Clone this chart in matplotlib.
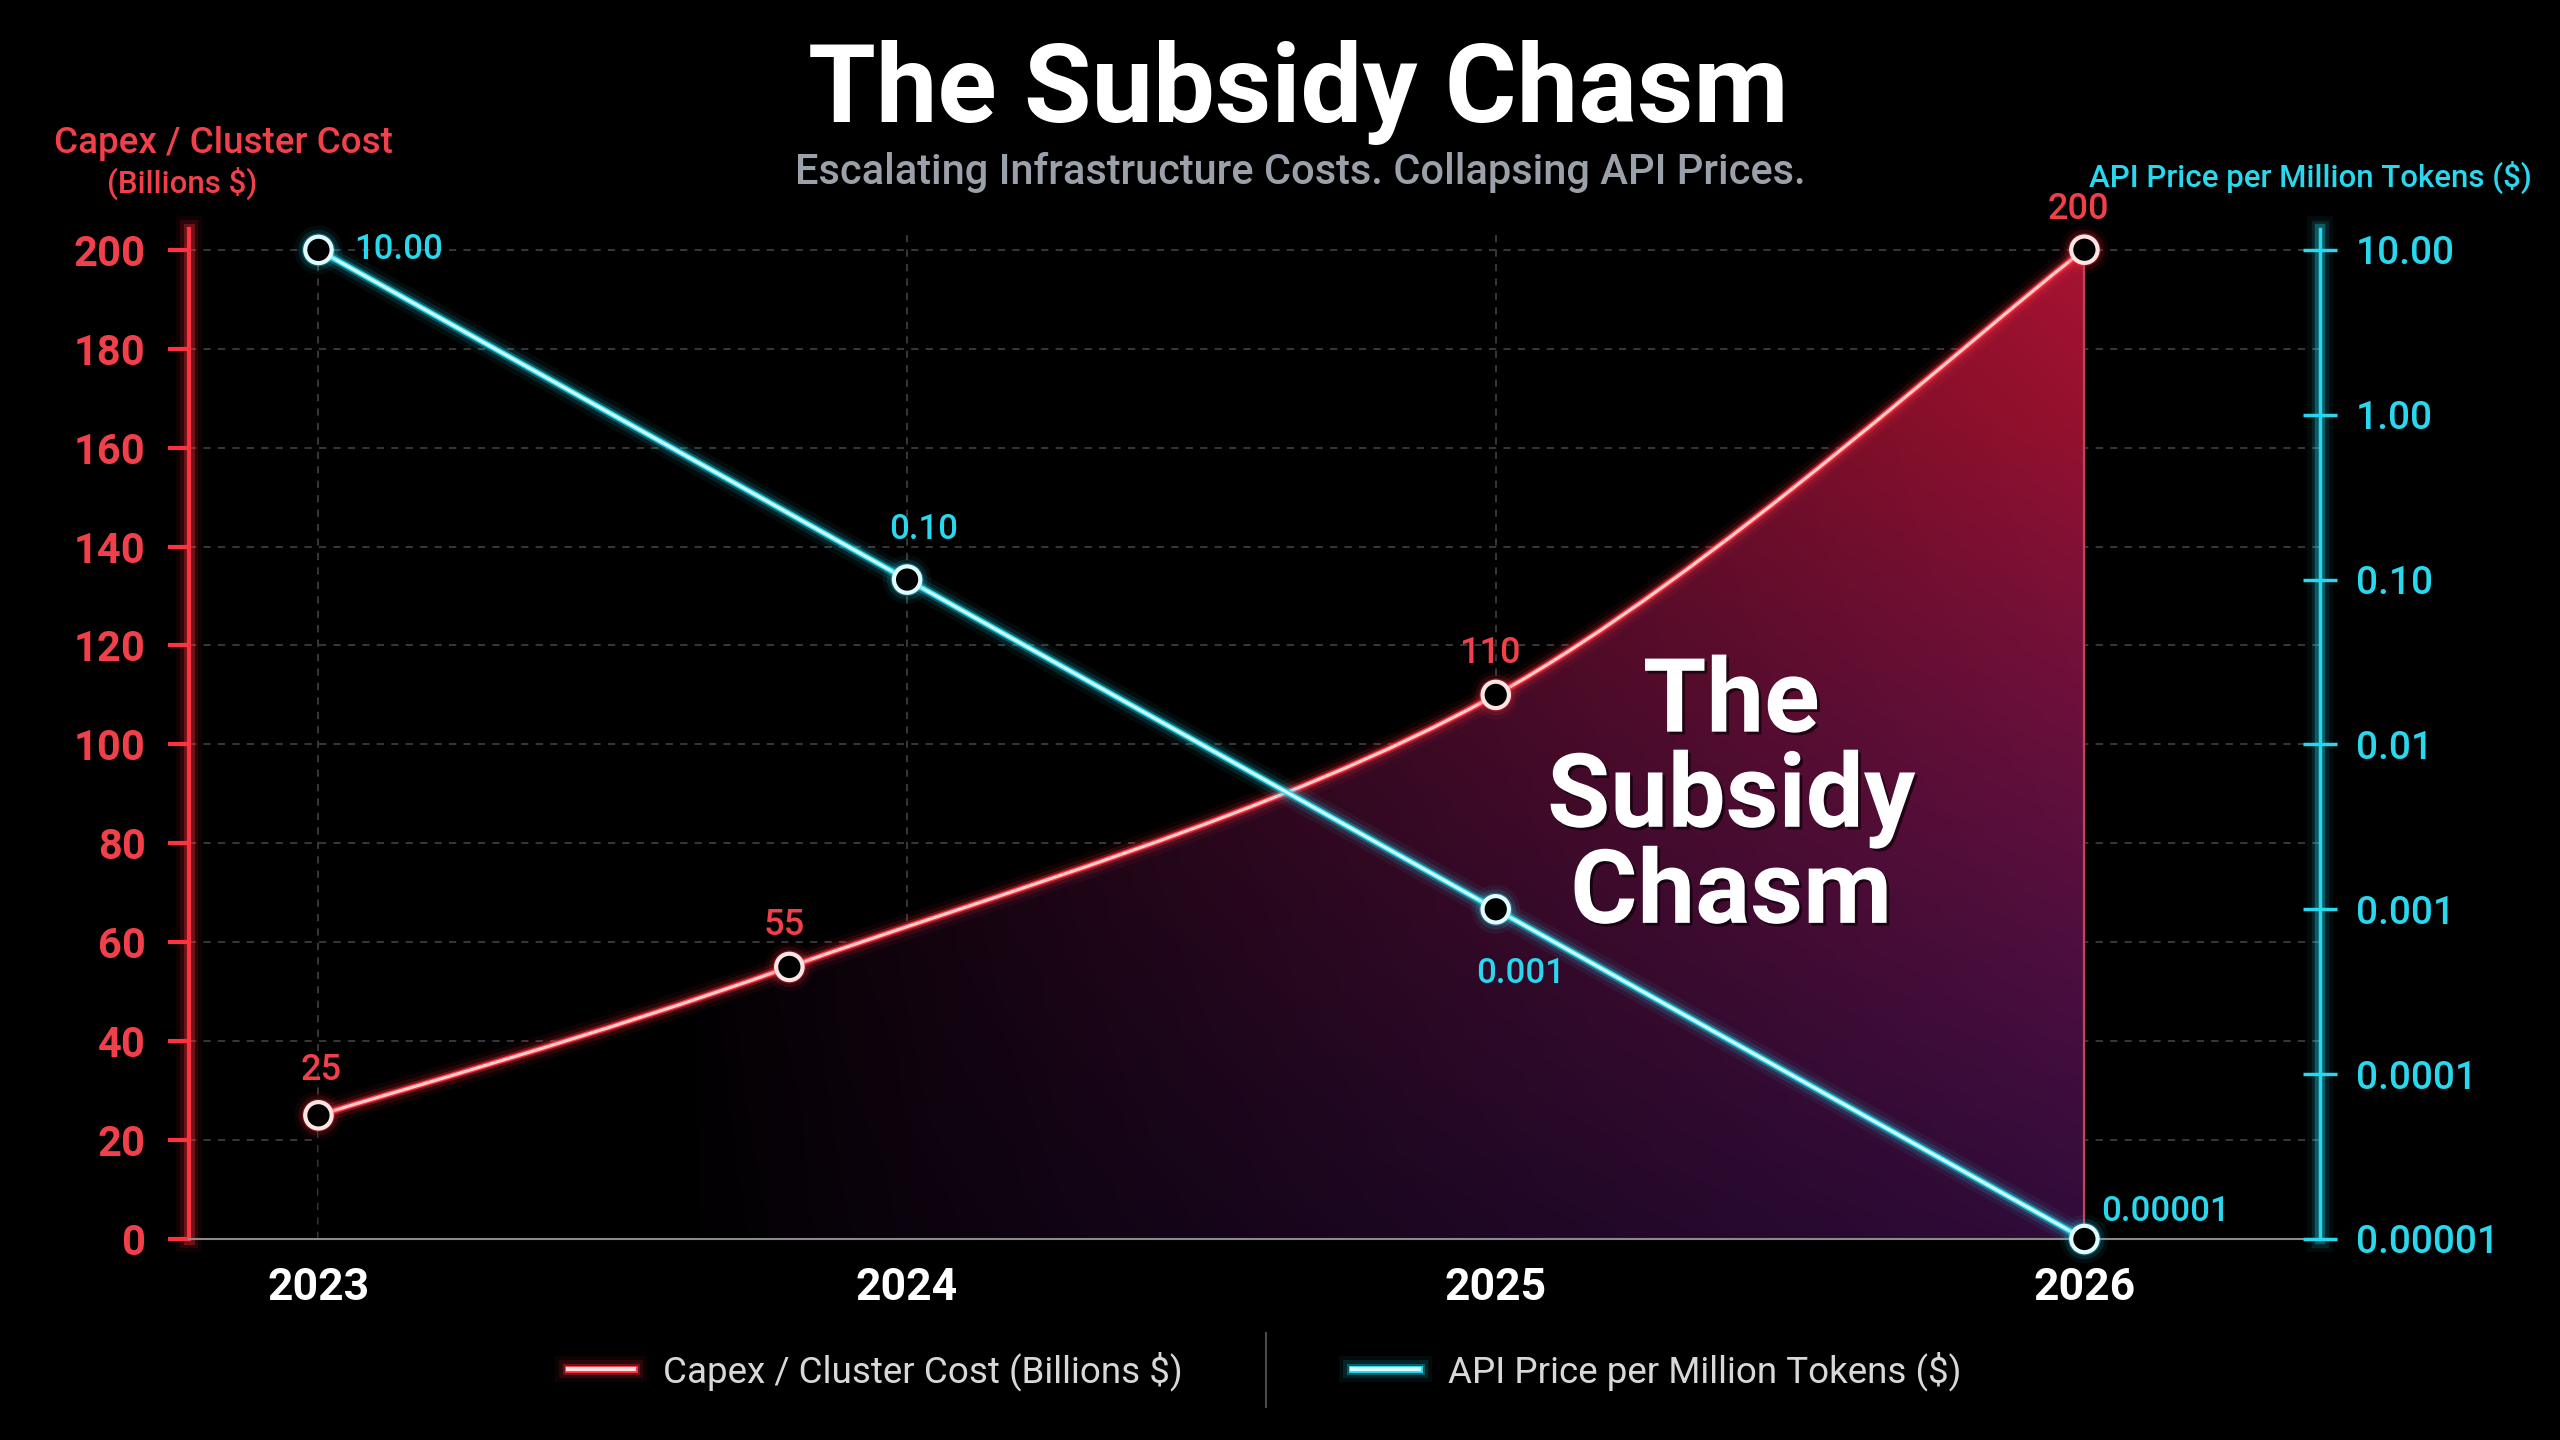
import numpy as np
import matplotlib.pyplot as plt
import matplotlib.patheffects as pe
from matplotlib.path import Path
from matplotlib.patches import PathPatch
from matplotlib.lines import Line2D

plt.rcParams['font.family'] = ['Roboto', 'DejaVu Sans']

# data
capex_years = [2023, 2023.8, 2025, 2026]
capex = [25, 55, 110, 200]
capex_labels = ["25", "55", "110", "200"]

api_years = [2023, 2024, 2025, 2026]
api_price = [10.0, 0.10, 0.001, 0.00001]
api_labels = ["10.00", "0.10", "0.001", "0.00001"]

year_ticks = [2023, 2024, 2025, 2026]
price_ticks = [10, 1, 0.1, 0.01, 0.001, 0.0001, 0.00001]
price_tick_labels = ["10.00", "1.00", "0.10", "0.01", "0.001", "0.0001", "0.00001"]

RED = '#ff3340'
RED_TXT = '#f2404a'
CYAN = '#28d8ee'
BG = '#000000'


def glow(color, core_lw):
    return [pe.Stroke(linewidth=core_lw + 16, foreground=color, alpha=0.06),
            pe.Stroke(linewidth=core_lw + 10, foreground=color, alpha=0.12),
            pe.Stroke(linewidth=core_lw + 5, foreground=color, alpha=0.3),
            pe.Stroke(linewidth=core_lw + 2, foreground=color, alpha=1.0),
            pe.Normal()]


def smooth_path(xs, ys, k=1 / 6):
    # catmull-rom style bezier through the points
    n = len(xs)
    verts = [(xs[0], ys[0])]
    codes = [Path.MOVETO]
    for i in range(n - 1):
        a = max(i - 1, 0)
        b = min(i + 2, n - 1)
        c1 = (xs[i] + (xs[i + 1] - xs[a]) * k, ys[i] + (ys[i + 1] - ys[a]) * k)
        c2 = (xs[i + 1] - (xs[b] - xs[i]) * k, ys[i + 1] - (ys[b] - ys[i]) * k)
        verts += [c1, c2, (xs[i + 1], ys[i + 1])]
        codes += [Path.CURVE4] * 3
    return verts, codes


fig = plt.figure(figsize=(25.6, 14.4), dpi=100, facecolor=BG)
ax = fig.add_axes([0.0738, 0.1396, 0.9062 - 0.0738, 0.841 - 0.1396])
ax.set_facecolor(BG)
ax2 = ax.twinx()

ax.set_xlim(2022.78, 2026.40)
ax.set_ylim(0, 204.2)
ax2.set_ylim(-5, 1.127)

# grid
ax.set_yticks(range(0, 201, 20))
ax.set_xticks(year_ticks)
ax.grid(True, color='#3c3c3c', lw=1.3, ls=(0, (4, 4)))
ax.set_axisbelow(True)

# gradient fill under the capex curve
verts, codes = smooth_path(capex_years, capex)
fill_verts = verts + [(capex_years[-1], 0), (capex_years[0], 0), (capex_years[0], capex[0])]
fill_codes = codes + [Path.LINETO, Path.LINETO, Path.CLOSEPOLY]
clip = PathPatch(Path(fill_verts, fill_codes), facecolor='none', edgecolor='none',
                 transform=ax.transData)
ax.add_patch(clip)

gx = np.linspace(2023, 2026, 300)
gy = np.linspace(0, 200, 200)
X, Y = np.meshgrid(gx, gy)
t = np.clip((X - 2023.6) / 2.4, 0, 1) ** 0.85
s = Y / 200
inten = t * (0.45 + 0.6 * s)
purple = np.array([0.42, 0.10, 0.50])
crimson = np.array([0.62, 0.07, 0.19])
m = np.clip(s * 1.2, 0, 1)[..., None]
rgb = np.clip((purple * (1 - m) + crimson * m) * inten[..., None], 0, 1)
img = np.dstack([rgb, np.ones_like(inten)])
im = ax.imshow(img, extent=(2023, 2026, 0, 200), origin='lower', aspect='auto',
               interpolation='bilinear', zorder=1)
im.set_clip_path(clip)

ax.vlines(capex_years[-1], 0, capex[-1], color='#c8405a', lw=1.6, zorder=2)

# capex line
red_patch = PathPatch(Path(verts, codes), facecolor='none', edgecolor='#ffd0d0', lw=2.2,
                      transform=ax.transData, zorder=4)
red_patch.set_path_effects(glow(RED, 2.2))
ax.add_patch(red_patch)
ax.plot(capex_years, capex, ls='none', marker='o', ms=19, mfc=BG, mec='#ffe4e4', mew=3,
        zorder=5, clip_on=False, path_effects=glow(RED, 0))

for x, y, lab, off in zip(capex_years, capex, capex_labels,
                          [(2, 32), (-4, 30), (-4, 30), (-4, 29)]):
    ax.annotate(lab, (x, y), xytext=off, textcoords='offset points', ha='center', va='center',
                color=RED_TXT, fontsize=26, fontweight='medium', zorder=6)

# api price line (log10 space on the right axis)
logp = list(np.log10(api_price))
cverts, ccodes = smooth_path(api_years, logp)
cyan_patch = PathPatch(Path(cverts, ccodes), facecolor='none', edgecolor='#d0faff', lw=2.2,
                       transform=ax2.transData, zorder=4)
cyan_patch.set_path_effects(glow(CYAN, 2.2))
ax2.add_patch(cyan_patch)
ax2.plot(api_years, logp, ls='none', marker='o', ms=19, mfc=BG, mec='#e0fcff', mew=3,
         zorder=5, clip_on=False, path_effects=glow(CYAN, 0))

for x, y, lab, off, ha in zip(api_years, logp, api_labels,
                              [(26, 0), (12, 36), (18, -46), (12, 20)],
                              ['left', 'center', 'center', 'left']):
    ax2.annotate(lab, (x, y), xytext=off, textcoords='offset points', ha=ha, va='center',
                 color=CYAN, fontsize=25, fontweight='medium', zorder=6)

# big label inside the chasm
ax.text(2025.4, 89, "The\nSubsidy\nChasm", ha='center', va='center', color='white',
        fontsize=74, fontweight='bold', linespacing=0.95, zorder=6,
        path_effects=[pe.withSimplePatchShadow(offset=(2, -2), shadow_rgbFace='black', alpha=0.6)])

# axes styling
for side in ['top', 'right']:
    ax.spines[side].set_visible(False)
for side in ['top', 'left', 'bottom']:
    ax2.spines[side].set_visible(False)
ax.spines['left'].set_color(RED)
ax.spines['left'].set_linewidth(3)
ax.spines['left'].set_path_effects(glow(RED, 3)[:3] + [pe.Normal()])
ax.spines['bottom'].set_color('#8a8a8a')
ax.spines['bottom'].set_linewidth(1.5)
ax2.spines['right'].set_color(CYAN)
ax2.spines['right'].set_linewidth(2.5)
ax2.spines['right'].set_path_effects(glow(CYAN, 2.5)[:3] + [pe.Normal()])

ax.tick_params(axis='y', colors=RED, labelcolor=RED_TXT, length=15, width=3, pad=16,
               labelsize=30)
ax.tick_params(axis='x', length=0, pad=20, labelsize=32, labelcolor='white')
for lab in ax.get_yticklabels():
    lab.set_fontweight('bold')
for lab in ax.get_xticklabels():
    lab.set_fontweight('bold')

ax2.set_yticks(np.log10(price_ticks))
ax2.set_yticklabels(price_tick_labels)
ax2.tick_params(axis='y', colors=CYAN, labelcolor=CYAN, direction='inout', length=24, width=2.5,
                pad=14, labelsize=28)
for lab in ax2.get_yticklabels():
    lab.set_fontweight('medium')

# titles and axis captions
fig.text(0.507, 0.915, "The Subsidy Chasm", ha='center', va='baseline', color='white',
         fontsize=79, fontweight='bold')
fig.text(0.508, 0.872, "Escalating Infrastructure Costs. Collapsing API Prices.", ha='center',
         va='baseline', color='#9ba1ab', fontsize=30, fontweight='medium')
fig.text(0.0874, 0.894, "Capex / Cluster Cost", ha='center', va='baseline', color=RED_TXT,
         fontsize=26.5, fontweight='medium')
fig.text(0.071, 0.866, "(Billions $)", ha='center', va='baseline', color=RED_TXT, fontsize=22.5,
         fontweight='medium')
fig.text(0.989, 0.870, "API Price per Million Tokens ($)", ha='right', va='baseline', color=CYAN,
         fontsize=22.5, fontweight='medium')

# legend
handles = [Line2D([], [], color='#ffe0e0', lw=3, path_effects=glow(RED, 3)),
           Line2D([], [], color='#d8fbff', lw=3, path_effects=glow(CYAN, 3))]
fig.legend(handles, ["Capex / Cluster Cost (Billions $)", "API Price per Million Tokens ($)"],
           loc='center', bbox_to_anchor=(0.494, 0.048), ncol=2, frameon=False, fontsize=26.5,
           labelcolor='#d8d8d8', columnspacing=4.6, handlelength=1.8, handletextpad=0.8)
fig.add_artist(Line2D([0.4945, 0.4945], [0.023, 0.074], color='#4a4a4a', lw=1.5))

fig.savefig('out.png', dpi=100, facecolor=BG)
